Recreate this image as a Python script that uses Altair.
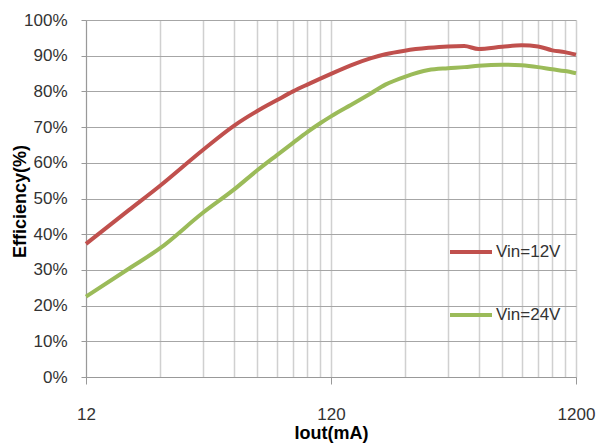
import altair as alt
import pandas as pd

iout_ma = [12, 18, 24, 36, 48, 60, 72, 84, 96, 108, 120, 150, 175, 200, 240, 300, 360,
           420, 480, 600, 720, 840, 960, 1080, 1200]
eff_12v = [37.3, 46.8, 53.5, 63.6, 70.3, 74.5, 77.5, 80.0, 81.9, 83.5, 84.9, 87.7, 89.3,
           90.4, 91.4, 92.2, 92.6, 92.7, 91.9, 92.5, 92.9, 92.6, 91.5, 91.0, 90.3]
eff_24v = [22.5, 30.4, 36.0, 46.0, 52.4, 57.9, 62.1, 65.6, 68.6, 71.0, 73.0, 76.8, 79.5,
           81.9, 84.1, 86.0, 86.5, 86.8, 87.2, 87.5, 87.3, 86.8, 86.2, 85.7, 85.1]
series_names = ["Vin=12V", "Vin=24V"]
series_colors = ["#C0504D", "#9BBB59"]
x_labels = [12, 120, 1200]
x_grid = [12, 24, 36, 48, 60, 72, 84, 96, 108, 120,
          240, 360, 480, 600, 720, 840, 960, 1080, 1200]
y_ticks = [i / 10 for i in range(11)]

rows = []
for x, a, b in zip(iout_ma, eff_12v, eff_24v):
    rows.append({"Iout": x, "eff": a / 100, "series": series_names[0]})
    rows.append({"Iout": x, "eff": b / 100, "series": series_names[1]})
df = pd.DataFrame(rows)

FONT = "Liberation Sans"
label_test = "indexof([" + ",".join(str(v) for v in x_labels) + "], datum.value) >= 0"

chart = alt.Chart(df).mark_line(strokeWidth=4, interpolate="monotone").encode(
    x=alt.X("Iout:Q",
            scale=alt.Scale(type="log", domain=[12, 1200], nice=False),
            axis=alt.Axis(values=x_grid, grid=True, gridColor="#D0D0D0", gridWidth=1.5,
                          tickSize=7, tickColor={"condition": {"test": label_test, "value": "#999999"},
                                                 "value": "rgba(0,0,0,0)"},
                          labelExpr=label_test + " ? datum.value : ''",
                          labelOverlap=False, labelFlush=False, labelPadding=22,
                          labelFontSize=17, labelFont=FONT, labelColor="#333333",
                          domainColor="#999999",
                          title="Iout(mA)", titleFont=FONT, titleFontSize=18, titleFontWeight="bold",
                          titleColor="#000000", titlePadding=2)),
    y=alt.Y("eff:Q",
            scale=alt.Scale(domain=[0, 1], nice=False),
            axis=alt.Axis(values=y_ticks, format=".0%", grid=True, gridColor="#A6A6A6",
                          gridWidth=1.2, tickSize=5, tickColor="#999999", domainColor="#999999",
                          labelPadding=14, labelFontSize=17, labelFont=FONT, labelColor="#333333",
                          title="Efficiency(%)", titleFont=FONT, titleFontSize=18,
                          titleFontWeight="bold", titleColor="#000000",
                          titleX=-66, titleY=181, titleBaseline="middle")),
    color=alt.Color("series:N",
                    scale=alt.Scale(domain=series_names, range=series_colors),
                    legend=alt.Legend(orient="none", legendX=362, legendY=209, title=None,
                                      symbolType="stroke", symbolSize=1764, symbolStrokeWidth=4,
                                      labelFontSize=17, labelFont=FONT, labelColor="#333333",
                                      rowPadding=32, labelOffset=2, padding=0)),
).properties(
    width=490, height=357,
    padding={"left": 3, "top": 3, "right": 5, "bottom": 5},
).configure_view(stroke=None)

chart.save("out.html", embed_options={"renderer": "svg", "actions": False})
